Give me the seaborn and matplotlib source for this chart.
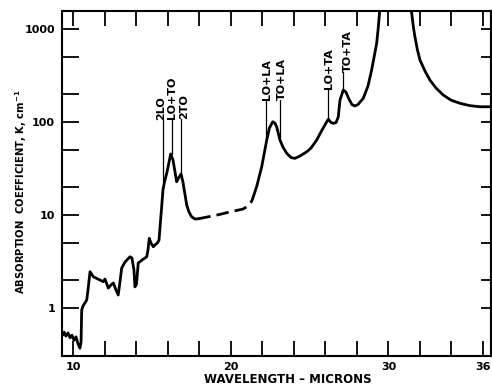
import numpy as np
import pandas as pd
import matplotlib
matplotlib.use("Agg")
import matplotlib.pyplot as plt
import seaborn as sns

# ---------------- data ----------------
# solid part 1 (noisy low-wavelength region up to the 2LO/LO+TO/2TO group)
seg1_wl = [9.31, 9.40, 9.52, 9.65, 9.78, 9.90, 10.03, 10.16, 10.29, 10.41, 10.48,
           10.52, 10.60, 10.84, 10.92, 11.05, 11.26, 11.43, 11.68, 11.89, 12.00,
           12.21, 12.38, 12.53, 12.70, 12.84, 12.95, 13.06, 13.27, 13.59, 13.71,
           13.84, 13.90, 14.00, 14.11, 14.35, 14.65, 14.73, 14.81, 14.92, 15.07,
           15.17, 15.32, 15.43, 15.49, 15.60, 15.68, 15.78, 15.94, 16.17, 16.32,
           16.55, 16.67, 16.83, 16.95, 17.19, 17.33, 17.50, 17.71, 17.92]
seg1_k = [0.51, 0.55, 0.50, 0.54, 0.48, 0.51, 0.45, 0.49, 0.41, 0.37, 0.43,
          0.95, 1.05, 1.22, 1.56, 2.46, 2.17, 2.10, 2.00, 1.92, 2.05,
          1.64, 1.77, 1.86, 1.56, 1.38, 1.90, 2.69, 3.12, 3.56, 3.45,
          2.56, 1.69, 1.81, 3.05, 3.28, 3.56, 4.20, 5.62, 5.00, 4.56,
          4.76, 5.00, 5.38, 7.25, 12.3, 18.6, 22.8, 29.0, 45.3, 39.0,
          22.8, 25.0, 27.6, 22.6, 12.8, 10.8, 9.59, 9.06, 9.12]

# dashed (interpolated) part
dash_wl = [17.92, 18.98, 19.94, 20.76, 21.08, 21.33]
dash_k = [9.12, 9.88, 10.8, 11.6, 12.5, 14.2]

# solid part 2 (LO+LA ... up to the reststrahlen band)
seg2_wl = [21.33, 21.63, 21.95, 22.27, 22.44, 22.65, 22.79, 22.90, 23.11, 23.30,
           23.54, 23.81, 24.06, 24.38, 24.81, 25.08, 25.44, 25.78, 26.08, 26.18,
           26.35, 26.50, 26.67, 26.81, 26.92, 27.13, 27.30, 27.49, 27.68, 27.87,
           28.06, 28.40, 28.70, 28.93, 29.11, 29.25, 29.35, 29.42, 29.46]
seg2_k = [14.2, 20.2, 33.0, 64.0, 86.2, 100.7, 97.5, 89.0, 64.0, 53.8,
          46.1, 41.5, 40.7, 43.1, 47.9, 52.5, 64.0, 82.0, 100.7, 107,
          98.8, 96.8, 98.8, 113, 172, 221, 210, 177, 154, 149,
          154, 180, 244, 362, 525, 702, 1025, 1415, 1683]

# solid part 3 (beyond the reststrahlen band)
seg3_wl = [31.43, 31.49, 31.59, 31.68, 31.84, 32.00, 32.32, 32.63, 33.02, 33.48,
           33.97, 34.54, 35.17, 35.81, 36.55]
seg3_k = [1683, 1415, 1025, 826, 594, 464, 353, 283, 232, 195,
          172, 159, 150, 146, 146]

# annotations
ann_labels = ["2LO", "LO+TO", "2TO", "LO+LA", "TO+LA", "LO+TA", "TO+TA"]
ann_text_wl = [15.59, 16.25, 17.05, 22.27, 23.24, 26.22, 27.43]
ann_line_wl = [15.71, 16.23, 16.83, 22.20, 23.11, 26.14, 27.11]
ann_top_k = [105, 108, 108, 172, 172, 226, 345]
ann_bottom_k = [23, 45, 27.6, 64, 67, 110, 226]

# axis ticks
x_ticks = [10, 12, 14, 16, 18, 20, 22, 24, 26, 28, 30, 32, 34, 36]
x_ticklabels = ["10", "", "", "", "", "20", "", "", "", "", "30", "", "", "36"]
y_major = [1, 10, 100, 1000]
y_major_labels = ["1", "10", "100", "1000"]
y_minor = [2, 5, 20, 50, 200, 500]

# ---------------- plotting ----------------
sns.set_style("ticks")
plt.rcParams["font.family"] = ["DejaVu Sans"]
plt.rcParams["font.weight"] = "bold"
for key in ["text.color", "axes.labelcolor", "xtick.color", "ytick.color",
            "axes.edgecolor"]:
    plt.rcParams[key] = "black"

fig = plt.figure(figsize=(4.92, 3.89), dpi=100)
ax = fig.add_axes([62 / 492, 33 / 389, 429 / 492, 345 / 389])
ax.set_yscale("log")

lw = 2.0
for wl, k, ls in [(seg1_wl, seg1_k, "-"), (dash_wl, dash_k, (0, (4.5, 2.2))),
                  (seg2_wl, seg2_k, "-"), (seg3_wl, seg3_k, "-")]:
    df = pd.DataFrame({"wavelength": wl, "K": k})
    sns.lineplot(data=df, x="wavelength", y="K", ax=ax, color="black",
                 linewidth=lw, sort=False, estimator=None, linestyle=ls)

for lab, tx, lx, top, bot in zip(ann_labels, ann_text_wl, ann_line_wl,
                                 ann_top_k, ann_bottom_k):
    ax.plot([lx, lx], [top, bot], color="black", lw=0.9)
    ax.text(tx, top * 1.01, lab, rotation=90, ha="center", va="bottom",
            fontsize=8, fontweight="bold", color="black")

ax.set_xlim(9.27, 36.51)
ax.set_ylim(0.305, 1563)

ax.set_xticks(x_ticks)
ax.set_xticklabels(x_ticklabels)
ax.set_yticks(y_major)
ax.set_yticklabels(y_major_labels)
ax.set_yticks(y_minor, minor=True)
ax.yaxis.set_minor_formatter(matplotlib.ticker.NullFormatter())
ax.xaxis.set_minor_locator(matplotlib.ticker.NullLocator())

ax.tick_params(axis="x", which="both", direction="in", length=11, width=1.3,
               top=True, bottom=True, pad=4, labelsize=8)
ax.tick_params(axis="y", which="both", direction="in", length=12, width=1.3,
               left=True, right=False, pad=5, labelsize=8)

sec = ax.secondary_yaxis("right")
sec.set_yticks(y_major + y_minor)
sec.set_yticklabels([])
sec.yaxis.set_minor_locator(matplotlib.ticker.NullLocator())
sec.tick_params(axis="y", direction="in", length=7.5, width=1.3)
sec.spines["right"].set_linewidth(1.5)

for s in ax.spines.values():
    s.set_linewidth(1.5)
    s.set_color("black")
    s.set_visible(True)

ax.set_xlabel("WAVELENGTH – MICRONS", fontsize=8.5, fontweight="bold")
ax.xaxis.set_label_coords(0.527, -0.05)
ax.set_ylabel("ABSORPTION  COEFFICIENT, K, cm$^{\\mathbf{-1}}$", fontsize=7.2,
              fontweight="bold")
ax.yaxis.set_label_coords(-0.077, 0.475)

fig.savefig("out.png", dpi=100, facecolor="white")
